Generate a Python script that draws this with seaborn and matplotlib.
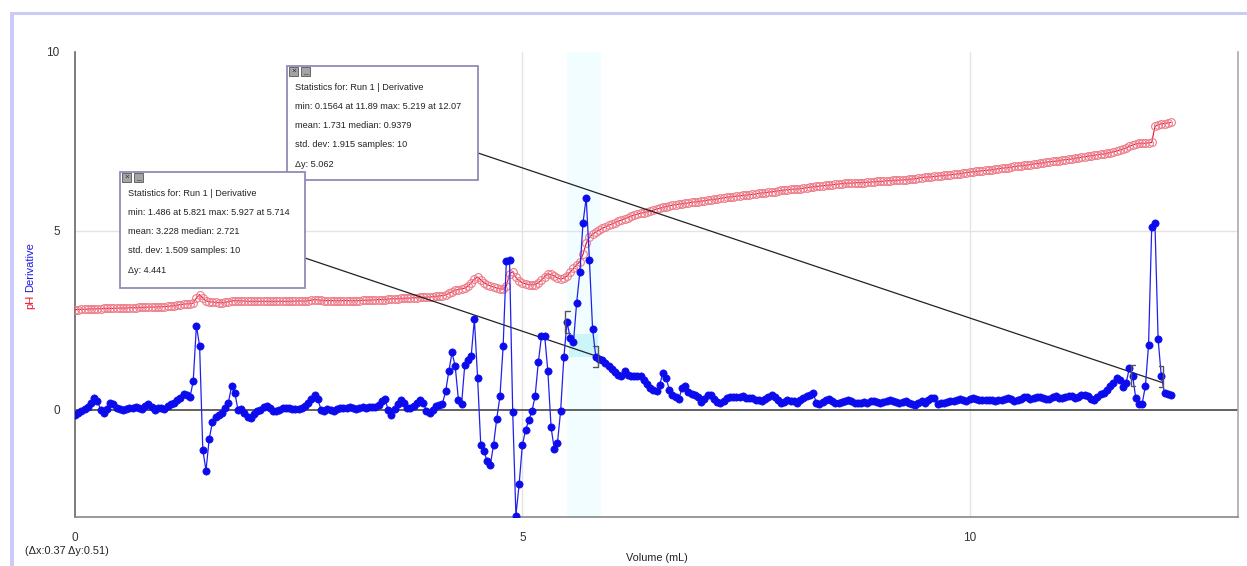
import numpy as np
import pandas as pd
import matplotlib.pyplot as plt
import seaborn as sns
from matplotlib.patches import Rectangle

# samples were logged every 1/28 mL
step = 1 / 28

# pH readings (red, open circles)
ph = [
    2.80, 2.80, 2.81, 2.81, 2.81, 2.82, 2.82, 2.82, 2.82, 2.83,
    2.83, 2.83, 2.83, 2.84, 2.84, 2.84, 2.84, 2.85, 2.85, 2.85,
    2.86, 2.86, 2.86, 2.87, 2.87, 2.87, 2.88, 2.88, 2.88, 2.89,
    2.90, 2.91, 2.92, 2.94, 2.95, 2.96, 2.96, 2.98, 3.12, 3.22,
    3.12, 3.04, 3.02, 3.01, 3.00, 2.99, 2.99, 3.00, 3.02, 3.04,
    3.05, 3.05, 3.04, 3.04, 3.03, 3.03, 3.03, 3.03, 3.03, 3.03,
    3.03, 3.03, 3.03, 3.03, 3.03, 3.03, 3.03, 3.03, 3.03, 3.04,
    3.04, 3.04, 3.04, 3.05, 3.06, 3.08, 3.07, 3.06, 3.05, 3.05,
    3.05, 3.05, 3.05, 3.05, 3.05, 3.05, 3.05, 3.05, 3.05, 3.05,
    3.06, 3.06, 3.06, 3.07, 3.07, 3.08, 3.08, 3.08, 3.09, 3.10,
    3.10, 3.10, 3.11, 3.11, 3.12, 3.12, 3.13, 3.13, 3.14, 3.14,
    3.15, 3.15, 3.16, 3.17, 3.18, 3.19, 3.21, 3.25, 3.30, 3.34,
    3.36, 3.38, 3.40, 3.45, 3.55, 3.65, 3.71, 3.63, 3.55, 3.50,
    3.46, 3.43, 3.40, 3.38, 3.37, 3.45, 3.80, 3.86, 3.70, 3.60,
    3.55, 3.52, 3.50, 3.49, 3.50, 3.55, 3.62, 3.72, 3.80, 3.78,
    3.74, 3.68, 3.65, 3.68, 3.74, 3.85, 3.95, 4.05, 4.14, 4.35,
    4.65, 4.82, 4.90, 4.97, 5.02, 5.07, 5.11, 5.15, 5.19, 5.23,
    5.27, 5.30, 5.34, 5.37, 5.41, 5.44, 5.47, 5.49, 5.51, 5.53,
    5.55, 5.58, 5.61, 5.63, 5.66, 5.68, 5.70, 5.72, 5.73, 5.75,
    5.76, 5.77, 5.78, 5.80, 5.81, 5.82, 5.83, 5.84, 5.86, 5.87,
    5.88, 5.89, 5.91, 5.92, 5.94, 5.95, 5.96, 5.97, 5.98, 5.99,
    6.00, 6.01, 6.02, 6.03, 6.05, 6.06, 6.07, 6.08, 6.09, 6.10,
    6.12, 6.13, 6.14, 6.15, 6.16, 6.17, 6.17, 6.18, 6.19, 6.21,
    6.22, 6.23, 6.24, 6.25, 6.26, 6.27, 6.28, 6.29, 6.30, 6.31,
    6.32, 6.33, 6.33, 6.34, 6.34, 6.35, 6.35, 6.35, 6.36, 6.36,
    6.37, 6.38, 6.38, 6.39, 6.40, 6.40, 6.41, 6.41, 6.42, 6.42,
    6.43, 6.44, 6.45, 6.46, 6.47, 6.49, 6.50, 6.51, 6.51, 6.52,
    6.53, 6.54, 6.55, 6.56, 6.57, 6.58, 6.59, 6.60, 6.61, 6.63,
    6.64, 6.65, 6.66, 6.67, 6.68, 6.69, 6.70, 6.71, 6.72, 6.74,
    6.75, 6.76, 6.77, 6.78, 6.80, 6.81, 6.82, 6.83, 6.84, 6.85,
    6.87, 6.88, 6.89, 6.90, 6.92, 6.93, 6.94, 6.95, 6.96, 6.98,
    6.99, 7.00, 7.01, 7.03, 7.04, 7.06, 7.07, 7.09, 7.10, 7.11,
    7.13, 7.14, 7.15, 7.17, 7.19, 7.21, 7.23, 7.26, 7.29, 7.32,
    7.36, 7.40, 7.43, 7.45, 7.45, 7.45, 7.46, 7.47, 7.92, 7.97,
    7.99, 8.00, 8.02, 8.03,
]

# first derivative (blue, filled dots)
deriv = [
    -0.14, -0.10, -0.03, 0.03, 0.08, 0.20, 0.34, 0.25, 0.00, -0.08,
    0.02, 0.20, 0.15, 0.05, 0.02, 0.00, 0.02, 0.05, 0.06, 0.08,
    0.05, 0.03, 0.10, 0.16, 0.08, 0.00, 0.05, 0.06, 0.03, 0.10,
    0.15, 0.20, 0.26, 0.33, 0.45, 0.42, 0.35, 0.80, 2.35, 1.78,
    -1.12, -1.70, -0.82, -0.35, -0.20, -0.14, -0.08, 0.05, 0.20, 0.65,
    0.48, 0.00, 0.02, -0.08, -0.20, -0.22, -0.12, -0.05, 0.00, 0.08,
    0.10, 0.05, -0.05, -0.05, 0.00, 0.04, 0.06, 0.05, 0.02, 0.02,
    0.02, 0.05, 0.10, 0.20, 0.30, 0.42, 0.30, 0.00, -0.05, 0.02,
    0.00, -0.03, 0.02, 0.05, 0.06, 0.05, 0.07, 0.06, 0.03, 0.05,
    0.07, 0.06, 0.07, 0.07, 0.08, 0.12, 0.25, 0.30, 0.00, -0.14,
    0.03, 0.15, 0.28, 0.20, 0.05, 0.05, 0.10, 0.20, 0.28, 0.20,
    -0.05, -0.10, 0.00, 0.11, 0.14, 0.17, 0.51, 1.07, 1.60, 1.21,
    0.28, 0.17, 1.26, 1.40, 1.50, 2.53, 0.90, -1.00, -1.16, -1.44,
    -1.54, -0.98, -0.25, 0.37, 1.77, 4.16, 4.19, -0.07, -2.96, -2.09,
    -1.00, -0.58, -0.30, -0.05, 0.37, 1.32, 2.05, 2.07, 1.07, -0.49,
    -1.10, -0.93, -0.03, 1.46, 2.45, 2.00, 1.88, 2.98, 3.84, 5.23,
    5.927, 4.19, 2.25, 1.486, 1.42, 1.38, 1.30, 1.22, 1.15, 1.05,
    0.98, 0.95, 1.07, 0.98, 0.93, 0.93, 0.95, 0.93, 0.83, 0.72,
    0.60, 0.55, 0.52, 0.70, 1.02, 0.90, 0.55, 0.42, 0.35, 0.30,
    0.60, 0.65, 0.50, 0.45, 0.42, 0.35, 0.22, 0.30, 0.42, 0.40,
    0.30, 0.22, 0.18, 0.25, 0.33, 0.36, 0.35, 0.35, 0.36, 0.38,
    0.33, 0.32, 0.32, 0.28, 0.27, 0.24, 0.30, 0.36, 0.42, 0.35,
    0.27, 0.20, 0.22, 0.28, 0.25, 0.23, 0.20, 0.27, 0.33, 0.37,
    0.42, 0.47, 0.20, 0.17, 0.22, 0.28, 0.30, 0.25, 0.20, 0.20,
    0.22, 0.25, 0.28, 0.25, 0.20, 0.20, 0.20, 0.22, 0.20, 0.23,
    0.24, 0.22, 0.20, 0.22, 0.24, 0.28, 0.25, 0.22, 0.20, 0.22,
    0.24, 0.20, 0.16, 0.14, 0.20, 0.23, 0.20, 0.28, 0.33, 0.33,
    0.15, 0.18, 0.20, 0.22, 0.23, 0.23, 0.26, 0.30, 0.27, 0.24,
    0.30, 0.33, 0.30, 0.26, 0.26, 0.28, 0.28, 0.26, 0.25, 0.26,
    0.28, 0.30, 0.33, 0.30, 0.25, 0.28, 0.30, 0.35, 0.36, 0.30,
    0.32, 0.35, 0.36, 0.32, 0.30, 0.30, 0.35, 0.38, 0.34, 0.34,
    0.35, 0.38, 0.39, 0.33, 0.36, 0.40, 0.42, 0.37, 0.30, 0.28,
    0.36, 0.45, 0.47, 0.56, 0.65, 0.75, 0.88, 0.82, 0.63, 0.76,
    1.16, 0.95, 0.33, 0.1564, 0.17, 0.65, 1.80, 5.12, 5.219, 1.97,
    0.93, 0.47, 0.45, 0.40,
]

# the two stats selections (sample index ranges)
sel_a = (154, 163)
sel_b = (331, 340)

stats_a = [
    "Statistics for: Run 1 | Derivative",
    "min: 1.486 at 5.821 max: 5.927 at 5.714",
    "mean: 3.228 median: 2.721",
    "std. dev: 1.509 samples: 10",
    "\u0394y: 4.441",
]
stats_b = [
    "Statistics for: Run 1 | Derivative",
    "min: 0.1564 at 11.89 max: 5.219 at 12.07",
    "mean: 1.731 median: 0.9379",
    "std. dev: 1.915 samples: 10",
    "\u0394y: 5.062",
]
cursor_txt = "(\u0394x:0.37 \u0394y:0.51)"

assert len(ph) == len(deriv)
volume = np.arange(len(ph)) * step
df = pd.DataFrame({"Volume": volume, "pH": ph, "Derivative": deriv})

sns.set_style("white")
plt.rcParams['font.family'] = ['Liberation Sans', 'DejaVu Sans']

W, H = 1247, 566
def fx(px):
    return px / W
def fy(py):
    return 1 - py / H

fig = plt.figure(figsize=(W / 100, H / 100), dpi=100)
ax = fig.add_axes([fx(75), fy(517), fx(1238) - fx(75), fy(52) - fy(517)])

# lavender window frame
fig.add_artist(Rectangle((fx(10), 0), 4 / W, fy(12), transform=fig.transFigure,
                         color='#CACBF6', lw=0, zorder=0))
fig.add_artist(Rectangle((fx(10), fy(15)), 1, 3 / H, transform=fig.transFigure,
                         color='#CACBF6', lw=0, zorder=0))

# selected region
ax.axvspan(5.50, 5.88, color='#F1FDFE', lw=0, zorder=0)
ax.add_patch(Rectangle((5.52, 1.48), 0.33, 0.64, color='#CCF5F9', lw=0, zorder=1))

# grid
for v in (5, 10):
    ax.axvline(v, color='#E4E4E4', lw=1, zorder=0.5)
ax.axhline(5, color='#E4E4E4', lw=1, zorder=0.5)
ax.axhline(0, color='#555555', lw=1.3, zorder=1.5)

sns.lineplot(data=df, x="Volume", y="pH", ax=ax, estimator=None, color='#E2102C',
             linewidth=0.8, marker='o', markersize=5.6, markerfacecolor='none',
             markeredgecolor='#EE7C8A', markeredgewidth=0.8, zorder=3)
sns.lineplot(data=df, x="Volume", y="Derivative", ax=ax, estimator=None, color='#2020EE',
             linewidth=0.9, marker='o', markersize=5.2, markerfacecolor='#0B0BEE',
             markeredgecolor='#0B0BEE', markeredgewidth=0.5, zorder=4)

# selection brackets
def bracket(x, y0, y1, d):
    ax.plot([x + d, x, x, x + d], [y0, y0, y1, y1], color='#555555', lw=1, zorder=5)

for a, b in (sel_a, sel_b):
    ya, yb = deriv[a], deriv[b]
    bracket(a * step - 0.02, ya - 0.3, ya + 0.3, 0.05)
    bracket(b * step + 0.02, yb - 0.3, yb + 0.3, -0.05)

ax.set_xlim(0, 13)
ax.set_ylim(-3, 10)
ax.set_xticks([0, 5, 10])
ax.set_xticks(np.arange(0, 14, 1), minor=True)
ax.set_yticks([0, 5, 10])
ax.set_yticks(np.arange(-3, 11, 1), minor=True)
ax.tick_params(which='major', direction='out', length=7, width=1, color='#666666',
               labelsize=8.5, labelcolor='#333333', pad=4)
ax.tick_params(which='minor', direction='out', length=4, width=1, color='#777777')
ax.set_xlabel("Volume (mL)", fontsize=7.8, color='#222222', labelpad=6)
ax.set_ylabel("")

ax.spines['top'].set_visible(False)
ax.spines['left'].set_color('#666666')
ax.spines['bottom'].set_color('#888888')
ax.spines['right'].set_color('#AAAAAA')
for s in ('left', 'bottom', 'right'):
    ax.spines[s].set_linewidth(1.2)

fig.text(fx(30), fy(302), "pH", rotation=90, color='#E8112D', fontsize=8,
         ha='center', va='center')
fig.text(fx(30), fy(267), "Derivative", rotation=90, color='#1A1AE6', fontsize=8,
         ha='center', va='center')
fig.text(fx(25), fy(551), cursor_txt, fontsize=7.8, color='#222222', va='center')

# leader lines from stats boxes to the selections
ax.annotate('', xy=(sel_b[1] * step + 0.02, 0.75), xycoords='data',
            xytext=(fx(478), fy(153)), textcoords='figure fraction',
            arrowprops=dict(arrowstyle='-', color='#222222', lw=0.9, shrinkA=0, shrinkB=0))
ax.annotate('', xy=(sel_a[1] * step + 0.02, deriv[sel_a[1]]), xycoords='data',
            xytext=(fx(305), fy(258)), textcoords='figure fraction',
            arrowprops=dict(arrowstyle='-', color='#222222', lw=0.9, shrinkA=0, shrinkB=0))

def stats_box(left, top, right, bottom, lines, z):
    fig.add_artist(Rectangle((fx(left), fy(bottom)), fx(right) - fx(left), fy(top) - fy(bottom),
                             transform=fig.transFigure, facecolor='white',
                             edgecolor='#8F8CB8', lw=1.3, zorder=z))
    for k, glyph in enumerate(["\u00d7", "_"]):
        x0 = left + 2 + k * 12
        fig.add_artist(Rectangle((fx(x0), fy(top + 10)), 9 / W, 9 / H,
                                 transform=fig.transFigure, facecolor='#A4A4A4',
                                 edgecolor='#555555', lw=0.6, zorder=z + 0.1))
        fig.text(fx(x0 + 4.5), fy(top + 5.5), glyph, fontsize=6, color='#333333',
                 ha='center', va='center', zorder=z + 0.2)
    for j, line in enumerate(lines):
        fig.text(fx(left + 8), fy(top + 21 + 19.3 * j), line, fontsize=6.6,
                 color='#222222', va='center', zorder=z + 0.3)

stats_box(287, 66, 478, 180, stats_b, 5)
stats_box(120, 172, 305, 288, stats_a, 7)

fig.savefig("out.png", dpi=100, facecolor='white')
